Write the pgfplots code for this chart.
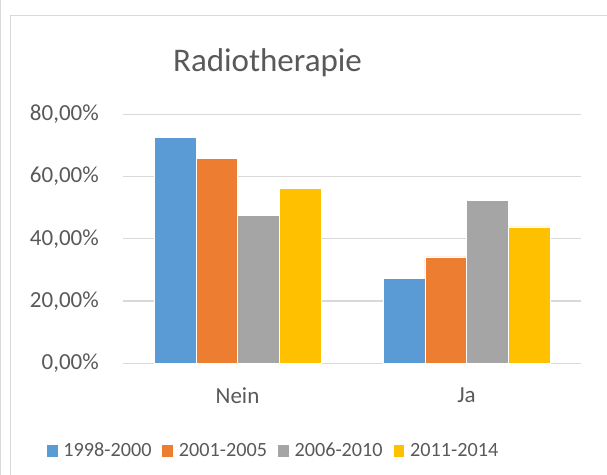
\documentclass[border=0pt]{standalone}
\usepackage{pgfplots}
\pgfplotsset{compat=1.18}
\usepackage{fontspec}
\setmainfont{Carlito}
\definecolor{txt}{HTML}{595959}
\definecolor{gridc}{HTML}{D9D9D9}
\definecolor{c1}{HTML}{5B9BD5}
\definecolor{c2}{HTML}{ED7D31}
\definecolor{c3}{HTML}{A5A5A5}
\definecolor{c4}{HTML}{FFC000}
\begin{document}
\begin{tikzpicture}[x=1bp,y=1bp]
\useasboundingbox (0,0) rectangle (607,475);
\draw[gridc, line width=1.2bp] (0.8,0) -- (0.8,475);
\draw[gridc, line width=1.2bp] (10.8,0) -- (10.8,459.5) -- (607,459.5);
\node[anchor=base, text=txt, font=\fontsize{33bp}{38bp}\selectfont, inner sep=0pt] at (267.5,403.3) {Radiotherapie};
\begin{axis}[
  at={(123bp,111.7bp)}, anchor=south west,
  scale only axis, width=458bp, height=249bp,
  ymin=0, ymax=80, xmin=-0.5, xmax=1.5,
  ytick={0,20,40,60,80},
  yticklabels={{0,00\%},{20,00\%},{40,00\%},{60,00\%},{80,00\%}},
  xtick={0,1}, xticklabels={Nein,Ja},
  ymajorgrids, grid style={gridc, line width=1.3bp},
  axis line style={draw=none},
  major tick length=0pt,
  ybar=0pt, bar width=41.7bp,
  ticklabel style={font=\fontsize{23bp}{27bp}\selectfont, text=txt},
  yticklabel style={anchor=east, inner sep=0pt, xshift=-24bp},
  xticklabel style={anchor=north, inner sep=0pt, yshift=-24bp},
  legend style={at={(0.3255,-0.351)}, anchor=center, legend columns=4, draw=none, fill=none, inner sep=0pt,
    font=\fontsize{20.2bp}{24bp}\selectfont, text=txt,
    nodes={inner sep=0pt},
    /tikz/every even column/.append style={column sep=10bp}},
  legend image code/.code={\fill[#1] (0bp,-6.5bp) rectangle (11.6bp,6.5bp); \path (17bp,0bp);},
]
\addplot[fill=c1, draw=white, line width=0.5bp] coordinates {(0,72.7) (1,27.3)};
\addplot[fill=c2, draw=white, line width=0.5bp] coordinates {(0,65.8) (1,34.2)};
\addplot[fill=c3, draw=white, line width=0.5bp] coordinates {(0,47.6) (1,52.4)};
\addplot[fill=c4, draw=white, line width=0.5bp] coordinates {(0,56.2) (1,43.8)};
\legend{1998-2000,2001-2005,2006-2010,2011-2014}
\end{axis}
\end{tikzpicture}
\end{document}
